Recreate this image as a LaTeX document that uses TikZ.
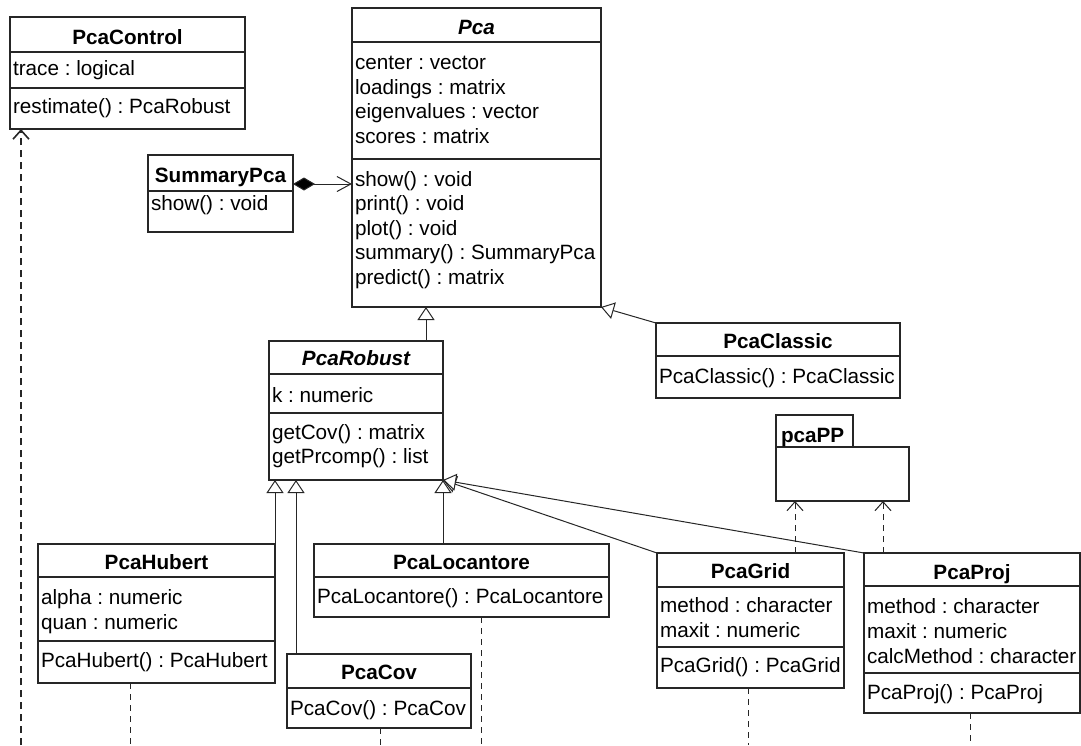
\documentclass[tikz,border=0pt]{standalone}
\usepackage{fontspec}
\setmainfont{Liberation Sans}
\usetikzlibrary{arrows.meta,calc}
\frenchspacing
\newcommand{\hsepline}[2]{\draw[sepline] ([yshift=-#2pt]#1.north west) -- ([yshift=-#2pt]#1.north east);}
\begin{document}
\frenchspacing
\begin{tikzpicture}[x=1pt,y=-1pt,
  box/.style={draw=black!85, line width=1.1pt, fill=white, inner sep=0pt, outer sep=0pt, anchor=north west},
  txt/.style={inner sep=0pt, outer sep=0pt, anchor=base west, font=\fontsize{20.7}{25}\selectfont\frenchspacing},
  ttl/.style={inner sep=0pt, outer sep=0pt, anchor=base, font=\fontsize{20.7}{25}\selectfont\bfseries},
  ttli/.style={inner sep=0pt, outer sep=0pt, anchor=base, font=\fontsize{20.7}{25}\selectfont\bfseries\itshape},
  sepline/.style={draw=black!85, line width=1.1pt},
  gen/.style={draw=black!85, line width=1pt, -{Triangle[open, length=13pt, width=17pt, fill=white]}},
  dep/.style={draw=black!85, line width=1pt, dash pattern=on 6pt off 5pt, -{Straight Barb[length=9pt, width=16pt]}},
  depline/.style={draw=black!85, line width=1pt, dash pattern=on 6pt off 5pt},
  comp/.style={draw=black!85, line width=1pt, {Diamond[length=22pt, width=13pt, fill=black]}-{Straight Barb[length=14pt, width=15pt]}}
]
\fill[white] (0,0) rectangle (1081,745);
\useasboundingbox (0,0) rectangle (1081,745);

% ---------- boxes ----------
\node[box, minimum width=235pt, minimum height=112pt] (control) at (10,17) {};
\node[box, minimum width=145pt, minimum height=77pt] (summary) at (148,155) {};
\node[box, minimum width=249pt, minimum height=299pt] (pca) at (352,8) {};
\node[box, minimum width=174pt, minimum height=139pt] (robust) at (269,341) {};
\node[box, minimum width=244pt, minimum height=75pt] (classic) at (656,323) {};
\node[box, minimum width=77pt, minimum height=32pt] (pptab) at (776,415) {};
\node[box, minimum width=133pt, minimum height=54pt] (ppbody) at (776,447) {};
\node[box, minimum width=237pt, minimum height=139pt] (hubert) at (38,544) {};
\node[box, minimum width=295pt, minimum height=73pt] (locantore) at (314,544) {};
\node[box, minimum width=184pt, minimum height=74pt] (cov) at (287,654) {};
\node[box, minimum width=187pt, minimum height=135pt] (grid) at (657,553) {};
\node[box, minimum width=216pt, minimum height=160pt] (proj) at (864,553) {};

% ---------- compartment separators ----------
\hsepline{control}{35}\hsepline{control}{71}
\hsepline{summary}{36}
\hsepline{pca}{34}\hsepline{pca}{151}
\hsepline{robust}{33}\hsepline{robust}{72}
\hsepline{classic}{33}
\hsepline{hubert}{33}\hsepline{hubert}{97}
\hsepline{locantore}{33}
\hsepline{cov}{34}
\hsepline{grid}{34}\hsepline{grid}{94}
\hsepline{proj}{33}\hsepline{proj}{120}

% ---------- texts ----------
\node[ttl] (control-t) at (127.5,44) {PcaControl};
\node[txt] (control-a1) at (13,75) {trace : logical};
\node[txt] (control-m1) at (13,113) {restimate() : PcaRobust};

\node[ttl] (summary-t) at (220.5,182) {SummaryPca};
\node[txt] (summary-m1) at (151,210) {show() : void};

\node[ttli] (pca-t) at (476.5,34) {Pca};
\node[txt] (pca-a1) at (355,69) {center : vector};
\node[txt] (pca-a2) at (355,94) {loadings : matrix};
\node[txt] (pca-a3) at (355,118.5) {eigenvalues : vector};
\node[txt] (pca-a4) at (355,143) {scores : matrix};
\node[txt] (pca-m1) at (355,186) {show() : void};
\node[txt] (pca-m2) at (355,210.5) {print() : void};
\node[txt] (pca-m3) at (355,235) {plot() : void};
\node[txt] (pca-m4) at (355,259.5) {summary() : SummaryPca};
\node[txt] (pca-m5) at (355,284) {predict() : matrix};

\node[ttli] (robust-t) at (356,365) {PcaRobust};
\node[txt] (robust-a1) at (272,402) {k : numeric};
\node[txt] (robust-m1) at (272,439) {getCov() : matrix};
\node[txt] (robust-m2) at (272,463) {getPrcomp() : list};

\node[ttl] (classic-t) at (778,348) {PcaClassic};
\node[txt] (classic-m1) at (659,383) {PcaClassic() : PcaClassic};

\node[txt, font=\fontsize{20.7}{25}\selectfont\bfseries] (pp-t) at (781,442) {pcaPP};

\node[ttl] (hubert-t) at (156.5,569) {PcaHubert};
\node[txt] (hubert-a1) at (41,604) {alpha : numeric};
\node[txt] (hubert-a2) at (41,629) {quan : numeric};
\node[txt] (hubert-m1) at (41,667) {PcaHubert() : PcaHubert};

\node[ttl] (locantore-t) at (461.5,569) {PcaLocantore};
\node[txt] (locantore-m1) at (317,603) {PcaLocantore() : PcaLocantore};

\node[ttl] (cov-t) at (379,679) {PcaCov};
\node[txt] (cov-m1) at (290,715) {PcaCov() : PcaCov};

\node[ttl] (grid-t) at (750.5,578) {PcaGrid};
\node[txt] (grid-a1) at (660,612) {method : character};
\node[txt] (grid-a2) at (660,637) {maxit : numeric};
\node[txt] (grid-m1) at (660,672) {PcaGrid() : PcaGrid};

\node[ttl] (proj-t) at (972,579) {PcaProj};
\node[txt] (proj-a1) at (867,613) {method : character};
\node[txt] (proj-a2) at (867,638) {maxit : numeric};
\node[txt] (proj-a3) at (867,663) {calcMethod : character};
\node[txt] (proj-m1) at (867,699) {PcaProj() : PcaProj};

% ---------- generalizations ----------
\coordinate (rg) at ([xshift=-17pt]robust.north east);
\draw[gen] (rg) -- (rg |- pca.south);
\draw[gen] (classic.north west) -- (pca.south east);
\draw[gen] (hubert.north east) -- (hubert.north east |- robust.south);
\coordinate (cg) at ([xshift=9pt]cov.north west);
\draw[gen] (cg) -- (cg |- robust.south);
\draw[gen] (robust.south east |- locantore.north) -- (robust.south east);
\draw[gen] (grid.north west) -- (robust.south east);
\draw[gen] (proj.north west) -- (robust.south east);

% ---------- composition ----------
\coordinate (sc) at ([yshift=-29pt]summary.north east);
\draw[comp] (sc) -- (sc -| pca.west);

% ---------- dependencies ----------
\coordinate (g1) at ([xshift=19pt]ppbody.south west);
\draw[dep] (g1 |- grid.north) -- (g1);
\coordinate (g2) at ([xshift=-26pt]ppbody.south east);
\draw[dep] (g2 |- proj.north) -- (g2);

\coordinate (bot) at (0,745);
\coordinate (c0) at (21,745);
\draw[dep, line width=1.6pt, dash pattern=on 7pt off 5pt] (c0) -- (c0 |- control.south);

\coordinate (h1) at ([xshift=92pt]hubert.south west);
\draw[depline] (h1) -- (h1 |- bot);
\coordinate (v1) at ([xshift=1pt]cov.south);
\draw[depline] (v1) -- (v1 |- bot);
\coordinate (l1) at ([xshift=167pt]locantore.south west);
\draw[depline] (l1) -- (l1 |- bot);
\coordinate (gr1) at ([xshift=-2.5pt]grid.south);
\draw[depline] (gr1) -- (gr1 |- bot);
\coordinate (p1) at ([xshift=-2pt]proj.south);
\draw[depline] (p1) -- (p1 |- bot);
\end{tikzpicture}
\end{document}
